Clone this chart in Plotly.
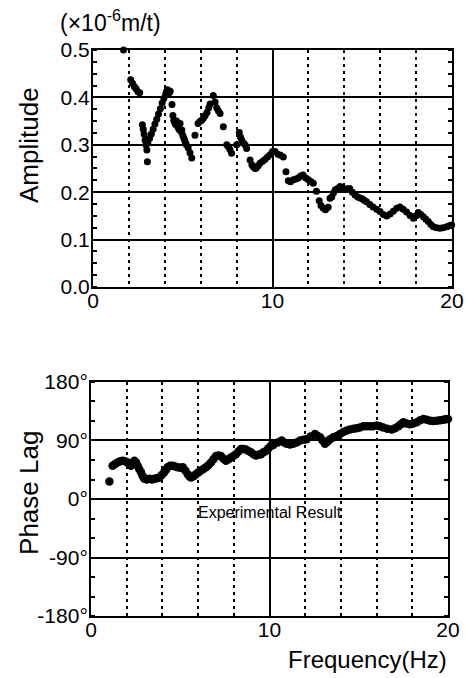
import plotly.graph_objects as go

# ---- Amplitude data (frequency Hz, amplitude x1e-6 m/t) ----
amp_freq = [1.7, 2.1, 2.2, 2.3, 2.4, 2.5, 2.6,
            2.75, 2.8, 2.85, 2.9, 2.95, 3.0, 3.03,
            3.05, 3.15, 3.25, 3.35, 3.45, 3.55, 3.65, 3.75, 3.85, 3.95, 4.05, 4.1, 4.15, 4.2, 4.25, 4.3,
            4.4, 4.45, 4.5, 4.55, 4.6, 4.65, 4.7, 4.75, 4.8, 4.85, 4.9, 4.95, 5.0, 5.05, 5.1, 5.15, 5.2, 5.3, 5.4, 5.5,
            5.68, 5.85, 5.95, 6.05, 6.15, 6.25, 6.35, 6.45, 6.52, 6.7, 6.8, 6.89, 6.98, 7.08, 7.26, 7.45, 7.55, 7.63, 7.72,
            8.0, 8.15, 8.22, 8.28, 8.38, 8.47, 8.56, 8.75, 8.85, 8.93, 9.03, 9.1, 9.2, 9.3, 9.45, 9.58, 9.72, 9.86,
            10.0, 10.14, 10.3, 10.45, 10.6, 10.75, 10.88, 11.0, 11.16, 11.3, 11.44, 11.57, 11.7, 11.85, 12.0, 12.15, 12.27,
            12.45, 12.6, 12.7, 12.83, 12.95, 13.1, 13.2, 13.3, 13.4, 13.5, 13.63, 13.76, 13.9, 14.04, 14.17, 14.3, 14.45,
            14.6, 14.75, 14.87, 15.0, 15.1, 15.24, 15.42, 15.6, 15.8, 15.99, 16.17, 16.36, 16.55, 16.73, 16.92, 17.1,
            17.28, 17.47, 17.66, 17.85, 17.98, 18.12, 18.26, 18.4, 18.54, 18.68, 18.82, 18.96, 19.14, 19.33, 19.5,
            19.7, 19.85, 19.98]
amp_val = [0.500, 0.437, 0.430, 0.423, 0.418, 0.412, 0.410,
           0.342, 0.333, 0.322, 0.310, 0.300, 0.289, 0.264,
           0.303, 0.313, 0.323, 0.333, 0.344, 0.354, 0.365, 0.376, 0.388, 0.398, 0.407, 0.413, 0.416, 0.414, 0.410, 0.413,
           0.385, 0.362, 0.352, 0.347, 0.343, 0.350, 0.340, 0.336, 0.332, 0.345, 0.328, 0.331, 0.320, 0.315, 0.310, 0.305, 0.300, 0.294, 0.283, 0.272,
           0.320, 0.345, 0.349, 0.352, 0.356, 0.362, 0.368, 0.378, 0.386, 0.404, 0.390, 0.378, 0.372, 0.366, 0.338, 0.300, 0.296, 0.290, 0.282,
           0.300, 0.326, 0.316, 0.310, 0.304, 0.300, 0.292, 0.268, 0.258, 0.253, 0.250, 0.251, 0.256, 0.261, 0.265, 0.269, 0.274, 0.279,
           0.286, 0.286, 0.280, 0.278, 0.274, 0.243, 0.224, 0.222, 0.226, 0.228, 0.230, 0.234, 0.236, 0.230, 0.226, 0.222, 0.219,
           0.202, 0.182, 0.172, 0.166, 0.163, 0.168, 0.187, 0.190, 0.199, 0.205, 0.208, 0.212, 0.209, 0.206, 0.207, 0.208, 0.200,
           0.194, 0.190, 0.188, 0.186, 0.183, 0.180, 0.174, 0.169, 0.164, 0.159, 0.153, 0.150, 0.154, 0.160, 0.166, 0.169,
           0.164, 0.158, 0.151, 0.145, 0.150, 0.157, 0.153, 0.148, 0.143, 0.138, 0.132, 0.127, 0.125, 0.124, 0.125,
           0.127, 0.129, 0.131]

# ---- Phase lag data (frequency Hz, degrees) ----
phase_freq = [1.03, 1.21, 1.35, 1.49, 1.63, 1.77, 1.91, 2.05, 2.15, 2.24, 2.33, 2.43, 2.52, 2.61, 2.7, 2.8, 2.9, 2.99,
              3.13, 3.27, 3.41, 3.55, 3.69, 3.83, 3.96, 4.1, 4.2, 4.29, 4.43, 4.58, 4.72, 4.86, 5.0, 5.14, 5.28, 5.42,
              5.51, 5.6, 5.74, 5.88, 6.02, 6.16, 6.3, 6.44, 6.58, 6.72, 6.86, 7.0, 7.14, 7.28, 7.42, 7.56, 7.7, 7.84,
              7.98, 8.12, 8.26, 8.4, 8.54, 8.68, 8.82, 8.96, 9.1, 9.24, 9.38, 9.52, 9.66, 9.8, 9.94, 10.08, 10.21,
              10.45, 10.68, 10.82, 10.96, 11.15, 11.33, 11.52, 11.71, 11.9, 12.08, 12.3, 12.55, 12.7, 12.83, 12.97,
              13.11, 13.25, 13.39, 13.58, 13.76, 13.95, 14.13, 14.3, 14.5, 14.7, 14.88, 15.06, 15.25, 15.44, 15.63,
              15.8, 16.0, 16.18, 16.37, 16.6, 16.85, 17.03, 17.22, 17.36, 17.5, 17.68, 17.87, 18.06, 18.25, 18.44,
              18.62, 18.81, 19.0, 19.18, 19.37, 19.55, 19.74, 19.87, 20.0]
phase_val = [27, 51, 54, 56, 58, 59, 58, 56, 53, 51, 55, 59, 56, 51, 46, 41, 35, 31,
             30, 31, 30, 31, 32, 33, 37, 41, 45, 49, 51, 51, 50, 49, 48, 49, 44, 38,
             35, 33, 35, 38, 41, 44, 46, 49, 52, 56, 61, 66, 67, 66, 62, 59, 61, 64,
             66, 69, 73, 77, 77, 76, 74, 72, 69, 67, 68, 69, 72, 74, 78, 82, 83,
             87, 90, 87, 85, 84, 85, 87, 90, 91, 92, 96, 100, 97, 95, 90,
             85, 88, 92, 95, 97, 100, 103, 105, 107, 108, 109, 110, 112, 112, 112,
             112, 113, 112, 110, 108, 107, 109, 112, 115, 118, 116, 115, 116, 118, 121,
             123, 122, 120.5, 120, 120.5, 121, 122, 122.5, 123]

amp_ticks = [0.0, 0.1, 0.2, 0.3, 0.4, 0.5]
phase_ticks = [-180, -90, 0, 90, 180]
phase_ticktext = ["-180°", "-90°", "0°", "90°", "180°"]
freq_ticks = [0, 10, 20]

FONT = "Liberation Sans, Arial, Helvetica, sans-serif"

fig = go.Figure()
fig.add_trace(go.Scatter(x=amp_freq, y=amp_val, mode="markers",
                         marker=dict(color="black", size=7),
                         xaxis="x", yaxis="y", cliponaxis=False, showlegend=False))
fig.add_trace(go.Scatter(x=phase_freq, y=phase_val, mode="markers",
                         marker=dict(color="black", size=8.5),
                         xaxis="x2", yaxis="y2", cliponaxis=False, showlegend=False))

def xax(domain, anchor):
    return dict(domain=domain, anchor=anchor, range=[0, 20], tickvals=freq_ticks,
                ticks="", showgrid=True, gridcolor="black", gridwidth=1.5,
                minor=dict(dtick=2, tick0=0, showgrid=True, gridcolor="black",
                           gridwidth=1.5, griddash="3px,4px", ticks=""),
                showline=True, linecolor="black", linewidth=2, mirror=True,
                automargin=False,
                zeroline=False, tickfont=dict(size=21, color="black", family=FONT))

def yax(domain, anchor, rng, tv, tt, mdt):
    return dict(domain=domain, anchor=anchor, range=rng, tickvals=tv, ticktext=tt,
                ticks="", showgrid=True, gridcolor="black", gridwidth=1.5,
                minor=dict(dtick=mdt, tick0=rng[0], ticks="inside", ticklen=4,
                           tickwidth=1.5, tickcolor="black", showgrid=False),
                showline=True, linecolor="black", linewidth=2, mirror="ticks",
                automargin=False,
                zeroline=False, tickfont=dict(size=21, color="black", family=FONT))

fig.update_layout(
    width=466, height=678, autosize=False,
    margin=dict(l=0, r=0, t=0, b=0, pad=0, autoexpand=False),
    paper_bgcolor="white", plot_bgcolor="white",
    font=dict(family=FONT, color="black"),
    xaxis=xax([0.1996, 0.970], "y"),
    yaxis=yax([0.5767, 0.9263], "x", [0, 0.5], amp_ticks,
              ["%.1f" % v for v in amp_ticks], 0.025),
    xaxis2=xax([0.1953, 0.9614], "y2"),
    yaxis2=yax([0.0914, 0.4366], "x2", [-180, 180], phase_ticks, phase_ticktext, 30),
    annotations=[
        dict(text="(×10<sup>-6</sup>m/t)", x=0.238, y=0.969, xref="paper", yref="paper",
             xanchor="center", yanchor="middle", showarrow=False, font=dict(size=23)),
        dict(text="Amplitude", x=0.0622, y=0.7861, xref="paper", yref="paper",
             xanchor="center", yanchor="middle",
             showarrow=False, textangle=-90, font=dict(size=26)),
        dict(text="Phase Lag", x=0.0622, y=0.2729, xref="paper", yref="paper",
             xanchor="center", yanchor="middle",
             showarrow=False, textangle=-90, font=dict(size=26)),
        dict(text="Frequency(Hz)", x=0.7876, y=0.028, xref="paper", yref="paper",
             xanchor="center", yanchor="middle", showarrow=False, font=dict(size=24)),
        dict(text="Experimental Result", x=10, y=-20, xref="x2", yref="y2",
             xanchor="center", yanchor="middle", showarrow=False, font=dict(size=16)),
    ],
)

# pull tick labels a little closer to the axes (if supported)
try:
    fig.update_xaxes(ticklabelstandoff=-6)
    fig.update_yaxes(ticklabelstandoff=-3)
except Exception:
    pass

fig.write_html("out.html", config={"responsive": False},
               post_script="document.body.style.margin='0';document.body.style.overflow='hidden';")
